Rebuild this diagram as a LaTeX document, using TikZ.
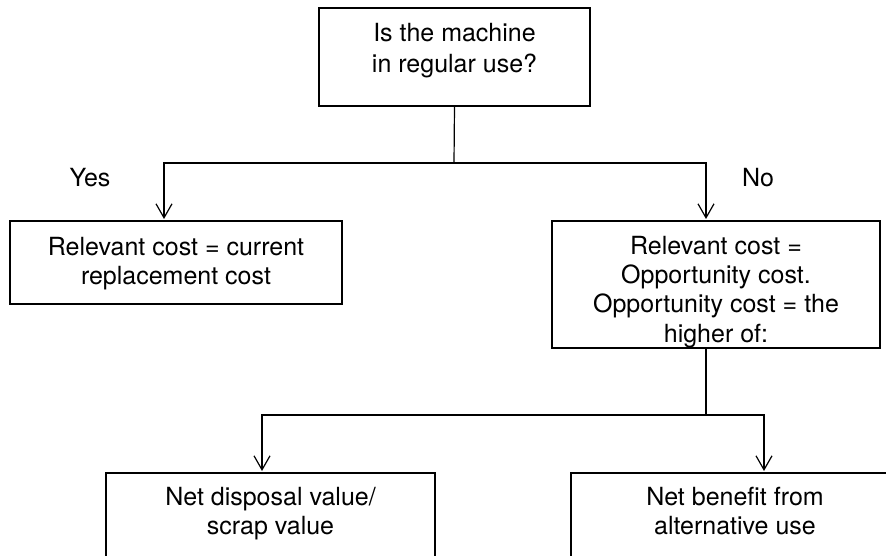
\documentclass[tikz,border=0pt]{standalone}
\usepackage{fontspec}
\setmainfont{TeX Gyre Heros}
\usetikzlibrary{arrows.meta}
\begin{document}
\begin{tikzpicture}[x=1pt,y=-1pt,
  every node/.style={inner sep=0pt, outer sep=0pt},
  box/.style={draw, line width=1.2pt, anchor=north west},
  txt/.style={anchor=north, align=center, font=\fontsize{25}{29.3}\selectfont},
  link/.style={line width=1.2pt},
  arr/.style={line width=1.2pt, -{Straight Barb[length=14pt, width=16pt]}, shorten >=2pt}]
\useasboundingbox (0,0) rectangle (886,556);
\clip (0,0) rectangle (886,556);

% question box
\node[box, minimum width=271, minimum height=98] (q) at (319,8) {};
\node[txt, font=\fontsize{25}{30.5}\selectfont] (qt) at (454.5,23.5) {Is the machine\\in regular use?};

% answers
\node[box, minimum width=332, minimum height=83] (yes) at (10,221) {};
\node[txt] (yest) at (176,237) {Relevant cost = current\\replacement cost};
\node[box, minimum width=328, minimum height=127] (no) at (552,221) {};
\node[txt] (not) at (716,236)
  {Relevant cost =\\Opportunity cost.\\Opportunity cost = the\\higher of:};

% branch labels
\node[anchor=base, font=\fontsize{25}{29}\selectfont] (ly) at (90,187) {Yes};
\node[anchor=base, font=\fontsize{25}{29}\selectfont] (ln) at (758,187) {No};

% the two alternatives (running off the lower edge)
\node[box, minimum width=329, minimum height=120] (scrap) at (106,473) {};
\node[txt] (scrapt) at (270.5,487) {Net disposal value/\\scrap value};
\node[box, minimum width=330, minimum height=120] (alt) at (571,473) {};
\node[txt] (altt) at (735,487) {Net benefit from\\alternative use};

% connectors
\coordinate (s1) at (454,163);
\draw[link] (q.south) -- (s1);
\draw[arr] (s1) -| ([xshift=-12]yes.north);
\draw[arr] (s1) -| ([xshift=-10]no.north);

\coordinate (s2) at (706,415);
\draw[link] ([xshift=-10]no.south) -- (s2);
\draw[arr] (s2) -| ([xshift=-8.5]scrap.north);
\draw[arr] (s2) -| ([xshift=28]alt.north);
\end{tikzpicture}
\end{document}
